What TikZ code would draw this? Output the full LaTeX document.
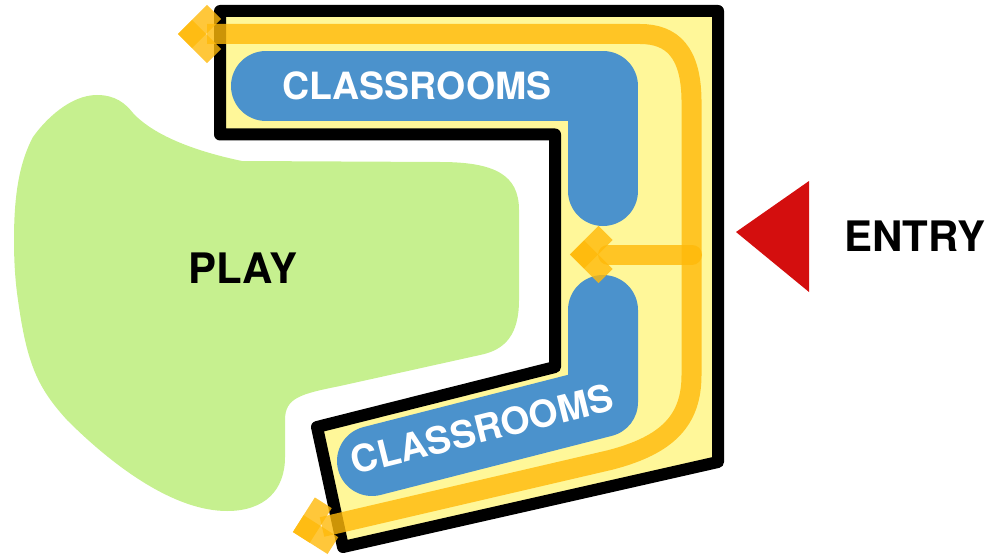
\documentclass[tikz,border=0pt]{standalone}
\usepackage{fontspec}
\setmainfont{TeX Gyre Heros}
\definecolor{playgreen}{HTML}{C6F08F}
\definecolor{hallyellow}{HTML}{FFF799}
\definecolor{roomblue}{HTML}{4B92CC}
\definecolor{pathorange}{HTML}{FFB909}
\definecolor{entryred}{HTML}{D40E0E}
\tikzset{
    wall/.style = {draw = black, fill = hallyellow, line width = 12pt, line join = round},
    rooms/.style = {draw = roomblue, line width = 70pt, line cap = round, line join = round},
    route/.style = {draw = pathorange, opacity = 0.8, line width = 20pt},
    bigtext/.style = {font = \fontsize{42}{48}\selectfont\bfseries},
    roomtext/.style = {font = \fontsize{37.5}{44}\selectfont\bfseries, text = white}
}
\begin{document}
\begin{tikzpicture}[x=1pt, y=-1pt]
    \useasboundingbox (0, 0) rectangle (992, 556);

    % play area
    \fill[playgreen] (97, 95) .. controls (115, 95) and (125, 103) .. (133, 113)
        .. controls (143, 124) and (170, 146) .. (242, 161)
        -- (440, 162) .. controls (495, 162) and (519, 175) .. (519, 210)
        -- (519, 300) .. controls (519, 335) and (505, 350) .. (480, 355)
        -- (340, 386) .. controls (300, 394) and (285, 398) .. (285, 420)
        -- (285, 457) .. controls (285, 490) and (265, 511) .. (227, 511)
        .. controls (175, 511) and (115, 468) .. (67, 420)
        .. controls (38, 388) and (27, 365) .. (18, 300)
        .. controls (15, 280) and (14, 260) .. (14, 240)
        .. controls (14, 200) and (18, 165) .. (33, 137)
        .. controls (45, 120) and (70, 95) .. (97, 95) -- cycle;

    % building
    \draw[wall] (220, 11) -- (718, 11) -- (718, 462) -- (343, 547) -- (317, 427)
        -- (555, 367) -- (555, 134.5) -- (220, 134.5) -- cycle;

    \draw[rooms] (266, 86) -- (603, 86) -- (603, 191);
    \draw[rooms] (603, 310) -- (603, 402) -- (372, 461);

    % routes
    \draw[route] (207, 34) -- (640, 34) .. controls (672, 34) and (691, 52) .. (691.5, 100)
        -- (691.5, 375) .. controls (691.5, 420) and (668, 445) .. (610, 460) -- (322, 527);
    \draw[route, line cap = round] (692, 254.5) -- (608, 254.5);

    \draw[route] (214, 12) -- (185, 41);
    \draw[route] (214, 56) -- (185, 27);
    \draw[route] (605.5, 233) -- (577, 261.5);
    \draw[route] (605.5, 276) -- (577, 247.5);
    \draw[route] (323.3, 502.8) -- (301.3, 537.4);
    \draw[route] (332.9, 545.6) -- (298.3, 523.6);

    % entry
    \fill[entryred] (736, 232) -- (809, 181) -- (809, 292) -- cycle;

    \node[bigtext] (entry) at (915, 236) {ENTRY};
    \node[bigtext] (play) at (243, 268) {PLAY};
    \node[roomtext] (roomstop) at (417, 86) {CLASSROOMS};
    \node[roomtext, rotate = 14] (roomsbottom) at (482, 429) {CLASSROOMS};
\end{tikzpicture}
\end{document}
